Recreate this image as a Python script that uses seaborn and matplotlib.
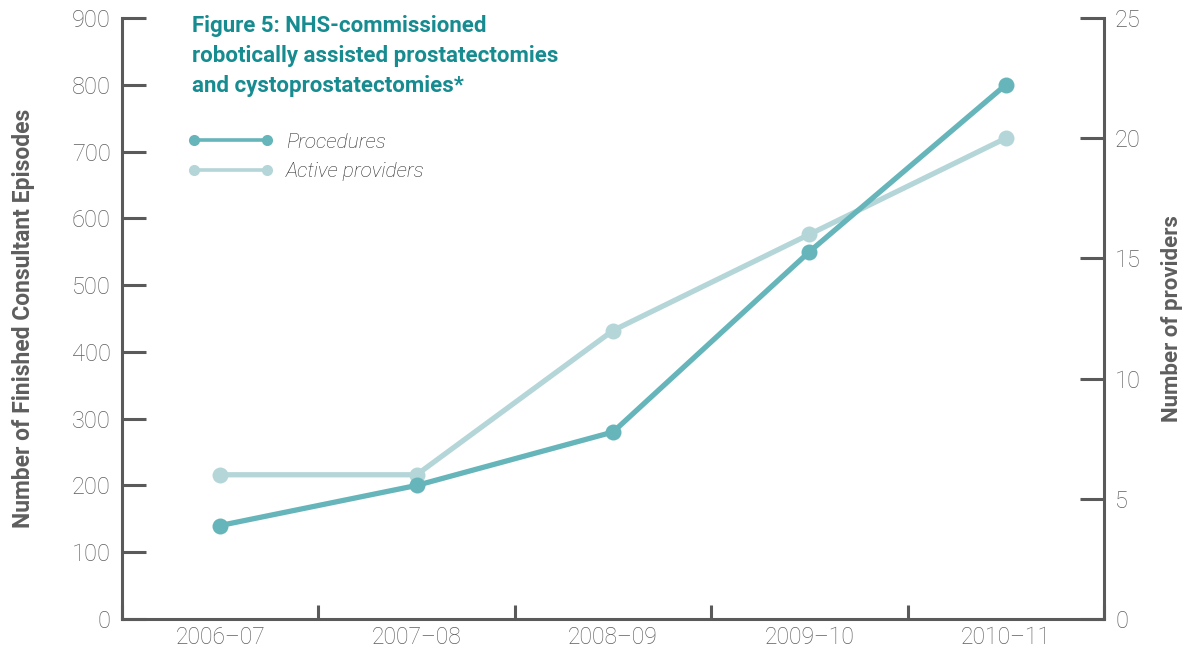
import matplotlib
matplotlib.use("Agg")
import matplotlib.pyplot as plt
from matplotlib.lines import Line2D
from matplotlib import font_manager
import seaborn as sns
import pandas as pd
import numpy as np

# Data
years = ["2006–07", "2007–08", "2008–09", "2009–10", "2010–11"]
procedures = [140, 200, 280, 550, 800]
providers = [6, 6, 12, 16, 20]

title_lines = ["Figure 5: NHS-commissioned",
               "robotically assisted prostatectomies",
               "and cystoprostatectomies*"]

proc_color = "#66B5BA"
prov_color = "#B5D6D8"
axis_color = "#5A5A5A"
title_color = "#168B90"
text_color = "#5E5E5E"

sns.set_theme(style="white")
plt.rcParams["font.family"] = ["Roboto", "DejaVu Sans"]

names = {f.name for f in font_manager.fontManager.ttflist}
narrow = "Liberation Sans Narrow" if "Liberation Sans Narrow" in names else "Roboto"

df = pd.DataFrame({"pos": np.arange(len(years)),
                   "procedures": procedures,
                   "providers": providers})

fig = plt.figure(figsize=(11.94, 6.52), dpi=100)
ax = fig.add_axes([122 / 1194, 1 - 619 / 652, (1104 - 122) / 1194, (619 - 18) / 652])
ax2 = ax.twinx()

sns.lineplot(data=df, x="pos", y="providers", ax=ax2, color=prov_color,
             linewidth=3.8, marker="o", markersize=11.5, markeredgewidth=0)
sns.lineplot(data=df, x="pos", y="procedures", ax=ax, color=proc_color,
             linewidth=3.8, marker="o", markersize=11.5, markeredgewidth=0)

# procedures line sits above the providers line
ax.set_zorder(ax2.get_zorder() + 1)
ax.patch.set_visible(False)

ax.set_xlim(-0.5, len(years) - 0.5)
ax.set_ylim(0, 900)
ax2.set_ylim(0, 25)

ax.set_yticks(range(0, 901, 100))
ax2.set_yticks(range(0, 26, 5))
ax.set_xticks(df["pos"])
ax.set_xticklabels(years)
ax.set_xticks(np.arange(-0.5, len(years), 1.0), minor=True)

for a in (ax, ax2):
    a.spines["top"].set_visible(False)
    for s in a.spines.values():
        s.set_color(axis_color)
        s.set_linewidth(2.2)

ax.spines["right"].set_visible(False)
ax2.spines["left"].set_visible(False)
ax2.spines["bottom"].set_visible(False)

ax.tick_params(axis="y", direction="in", length=17, width=2.2, color=axis_color,
               labelsize=17, labelcolor=text_color, pad=8, left=True)
ax2.tick_params(axis="y", direction="in", length=17, width=2.2, color=axis_color,
                labelsize=17, labelcolor=text_color, pad=8, right=True)
ax.tick_params(axis="x", which="major", length=0, labelsize=16.5,
               labelcolor=text_color, pad=5)
ax.tick_params(axis="x", which="minor", direction="in", length=10, width=2.2,
               color=axis_color, bottom=True)
for lbl in ax.get_yticklabels() + ax2.get_yticklabels() + ax.get_xticklabels():
    lbl.set_fontweight("light")

ax.set_xlabel("")
label_font = dict(family=[narrow, "DejaVu Sans"], weight="bold", color=text_color)
ax.set_ylabel("Number of Finished Consultant Episodes", size=16.5, **label_font)
ax.yaxis.set_label_coords(-0.089, 0.5)
ax2.set_ylabel("Number of providers", labelpad=14, size=16, **label_font)

# Title block
fig.text(192 / 1194, 1 - 15 / 652, "\n".join(title_lines), ha="left", va="top",
         family=[narrow, "DejaVu Sans"], weight="bold",
         size=16, color=title_color, linespacing=1.47)

# Legend
handles = [Line2D([], [], color=proc_color, linewidth=2.6, marker="o", markersize=8,
                  markeredgewidth=0),
           Line2D([], [], color=prov_color, linewidth=2.6, marker="o", markersize=8,
                  markeredgewidth=0)]
leg = ax.legend(handles, ["Procedures", "Active providers"], loc="upper left",
                bbox_to_anchor=(169 / 1194, 1 - 114 / 652), bbox_transform=fig.transFigure,
                frameon=False, numpoints=2, handlelength=4.1, handletextpad=0.6,
                labelspacing=0.5, prop=dict(family="Roboto", style="italic",
                                            weight="light", size=15))
for t in leg.get_texts():
    t.set_color("#2E2E2E")

fig.savefig("out.png", dpi=100)
